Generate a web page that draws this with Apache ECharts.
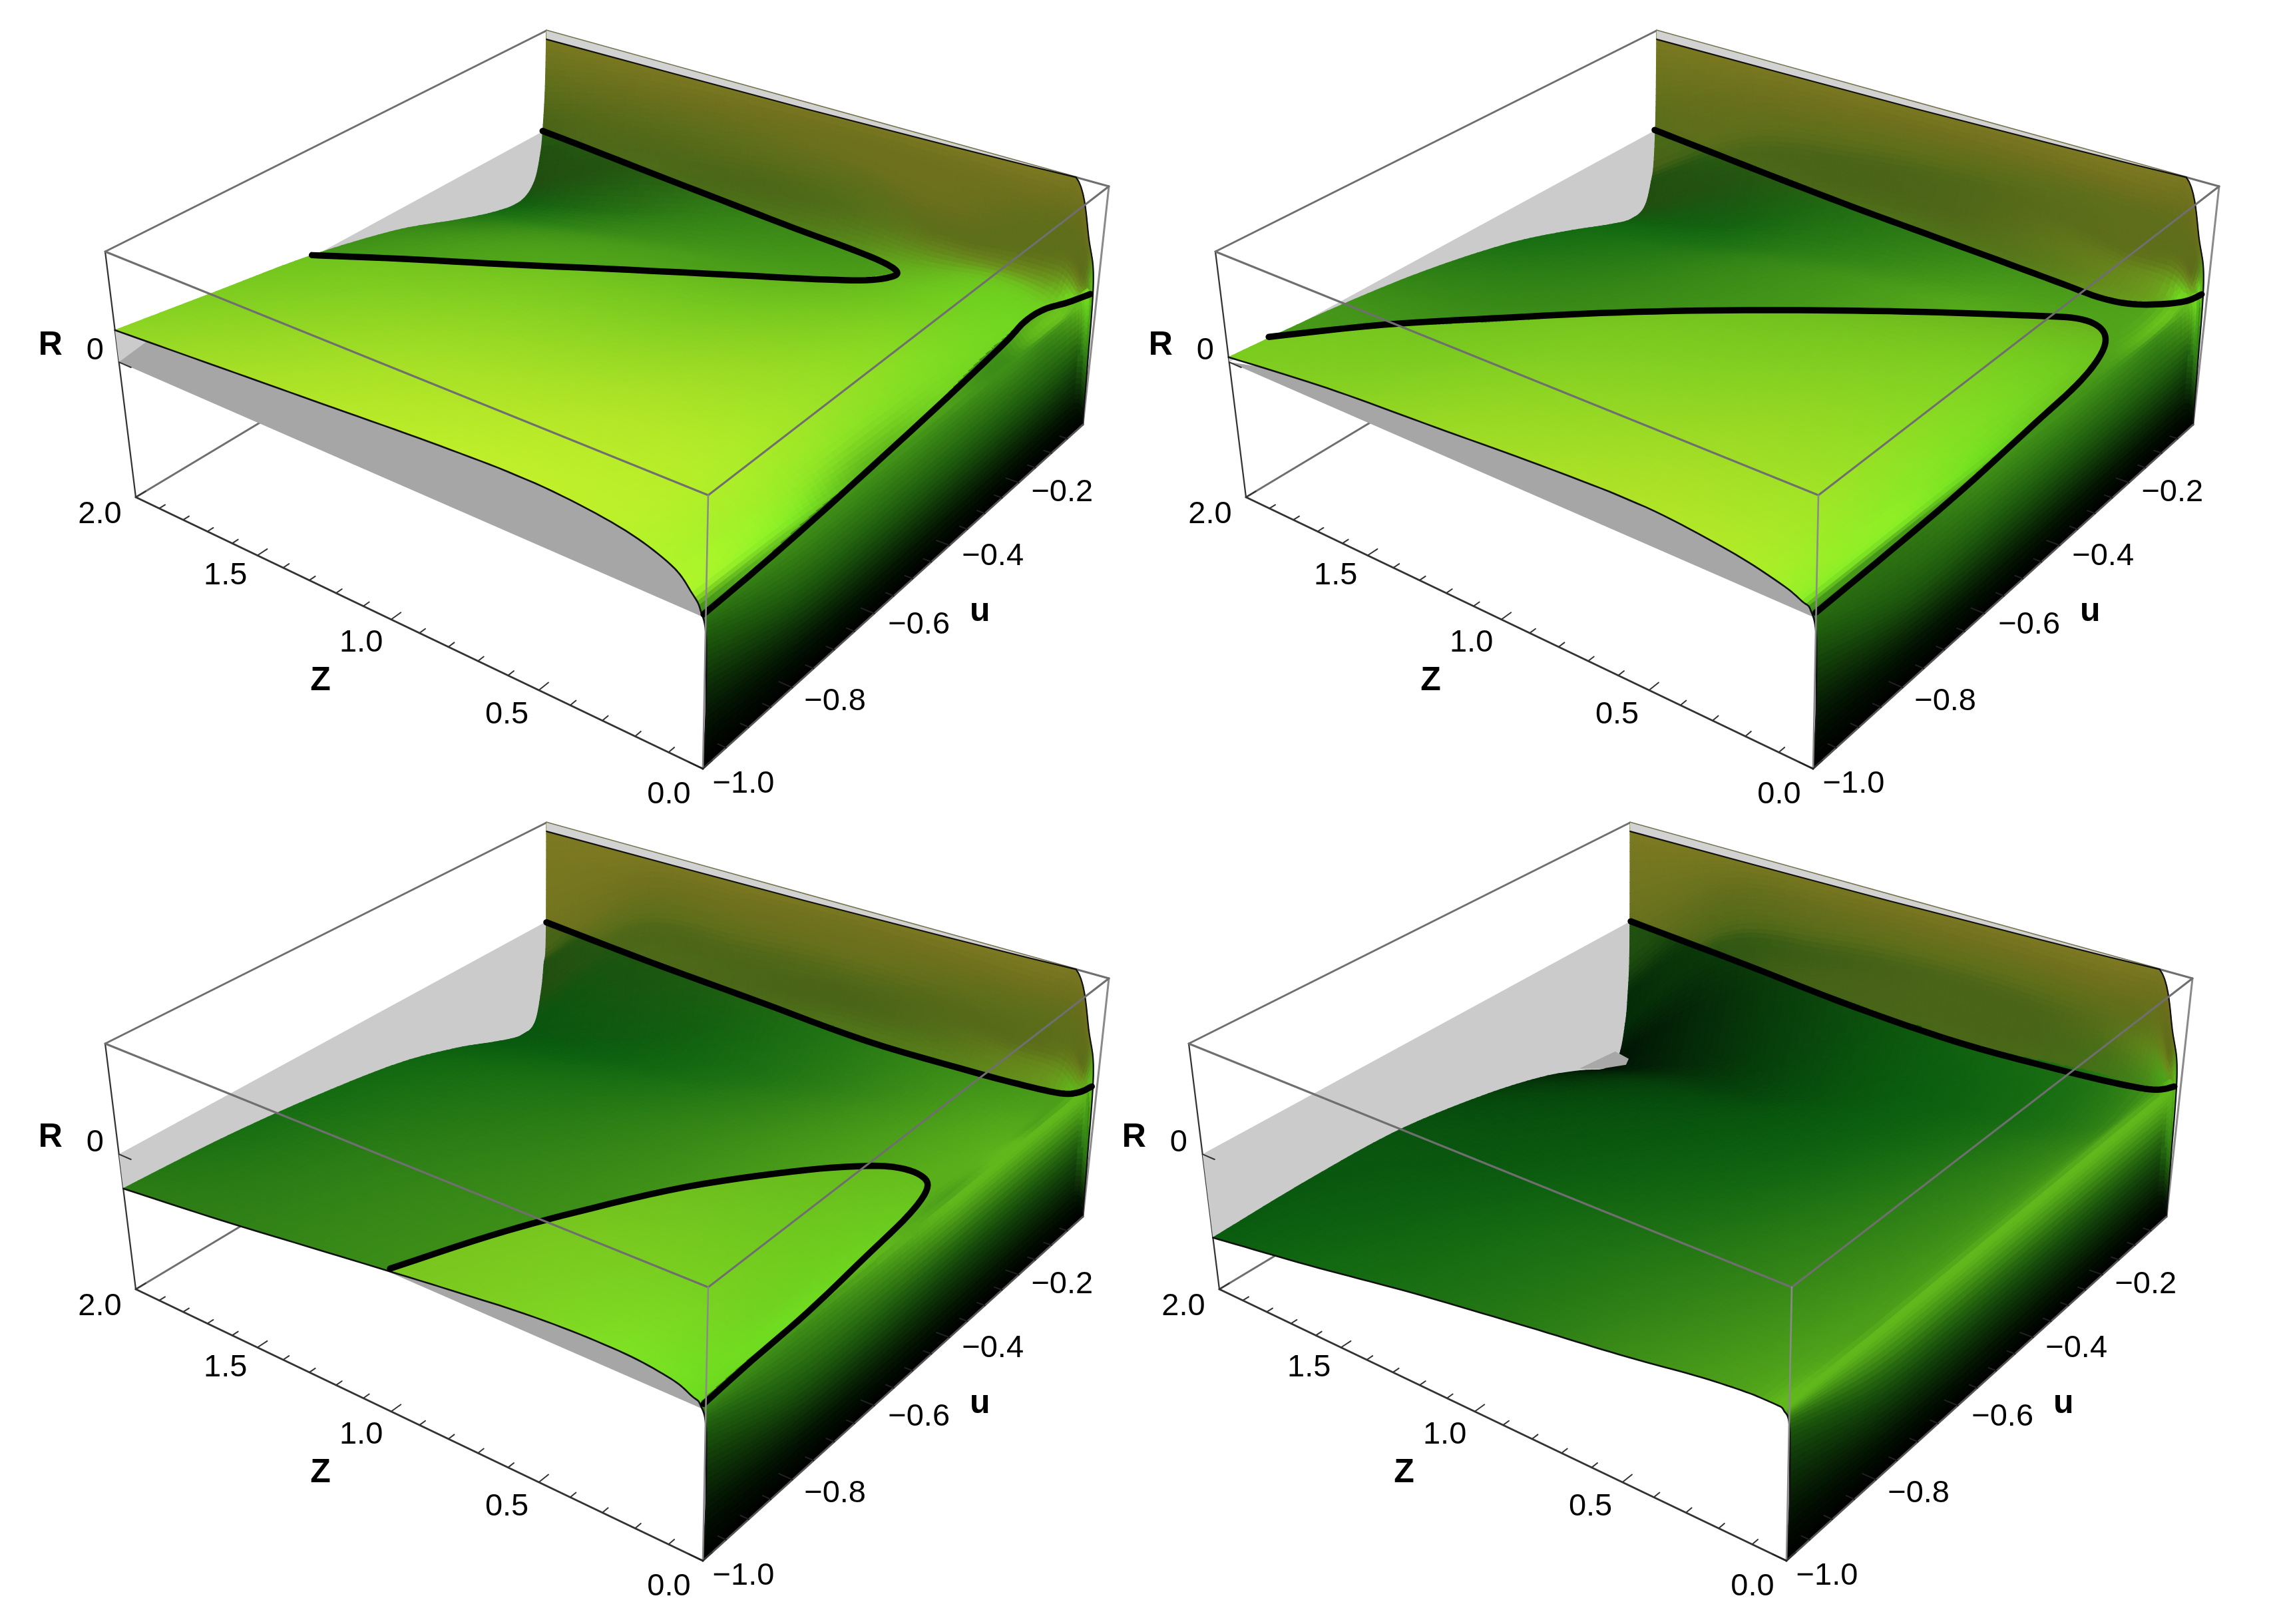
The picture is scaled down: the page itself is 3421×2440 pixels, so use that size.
<!doctype html>
<html><head><meta charset="utf-8"><style>html,body{margin:0;background:#fff}#c{width:3421px;height:2440px}</style>
<script src="https://cdn.jsdelivr.net/npm/echarts@6/dist/echarts.min.js"></script></head><body><div id="c"></div>
<script>
// ---- axes
const U_KNOTS=[-1,-.8,-.6,-.4,-.25,-.15,-.08,-.04,-.02,-.012,-.005,0];
const Z_KNOTS=[2,1.6,1.2,.8,.5,.25,.1,.04,.015,.006,.002,0];
const Z_MAJOR=[0,.5,1,1.5,2];
const Z_LABELS=['0.0','0.5','1.0','1.5','2.0'];
const Z_MINOR=[.1,.2,.3,.4,.6,.7,.8,.9,1.1,1.2,1.3,1.4,1.6,1.7,1.8,1.9];
const U_MAJOR=[-1,-.8,-.6,-.4,-.2];
const U_LABELS=['\u22121.0','\u22120.8','\u22120.6','\u22120.4','\u22120.2'];
const U_MINOR=[-.95,-.9,-.85,-.75,-.7,-.65,-.55,-.5,-.45,-.35,-.3,-.25,-.15,-.1,-.05];
// ---- surface height R (hundredths), rows Z_KNOTS (first 9), columns U_KNOTS
const R_P1=[[13,7,1,-8,-18,-24,-26,-21,-9,3,20,45],[16,11,5,-3,-11,-17,-17,-1,8,17,30,45],[19,15,9,3,-4,-9,-4,7,17,25,35,45],[22,17,12,6,0,-3,0,10,20,28,37,45],[23,19,15,10,5,2,1,5,10,22,36,45],[20,18,15,12,9,6,5,6,12,24,35,45],[14,12,11,9,6,2,2,5,12,22,34,45],[7,5,1,-1,-2,-3,-3,0,4,8,12,20],[2,0,-2,-3,-3,-3,-3,-3,-1,0,1,4]];
const R_P2=[[2,-1,-6,-14,-23,-30,-34,-32,-22,-14,8,45],[7,1,-4,-11,-18,-23,-22,-8,4,13,28,45],[10,6,2,-3,-8,-12,-5,3,13,22,34,45],[13,9,5,1,-3,-6,-1,8,18,26,36,45],[14,10,7,3,0,-3,1,9,18,27,36,45],[11,9,7,5,2,-1,2,6,12,25,35,45],[7,6,5,4,1,-2,-1,5,12,22,34,45],[4,3,2,0,-2,-3,-2,1,5,8,12,20],[2,0,-1,-3,-3,-3,-3,-3,-1,0,1,4]];
const R_P3=[[-14,-16,-20,-26,-34,-41,-45,-43,-30,-19,-8,45],[-9,-10,-14,-19,-27,-33,-33,-4,9,17,30,45],[-3,-5,-9,-15,-21,-24,-14,3,14,23,34,45],[3,1,-3,-8,-12,-14,-2,9,18,26,36,45],[7,5,3,-2,-5,-7,-1,8,17,26,36,45],[8,6,5,1,-3,-4,-1,6,12,24,35,45],[6,4,3,-1,-4,-5,-3,5,12,22,34,45],[3,1,0,-1,-1,-1,-1,0,5,8,12,20],[1,-1,-2,-2,-2,-2,-2,-2,-1,0,1,4]];
const R_P4=[[-34,-33,-34,-40,-47,-54,-60,-58,-45,-33,-12,45],[-27,-27,-28,-30,-36,-42,-44,-20,2,11,27,45],[-19,-19,-21,-25,-31,-36,-27,2,13,22,34,45],[-12,-13,-15,-18,-20,-20,-3,9,18,26,36,45],[-7,-8,-9,-12,-14,-14,-3,8,17,26,36,45],[-2,-3,-4,-6,-8,-9,-2,6,15,24,35,45],[0,-1,-1,-3,-5,-6,-3,1,12,22,34,45],[0,-1,-1,-1,-1,-1,-1,-1,4,8,12,20],[-1,-2,-2,-2,-2,-2,-2,-2,-1,0,1,4]];
const R_FRONT=[[-8,-20,-22,-22,-22,-22,-22,-22,-24,-26,-28,-30],[-35,-40,-42,-42,-42,-42,-42,-42,-44,-46,-48,-50],[-55,-55,-55,-55,-55,-55,-55,-55,-55,-55,-55,-55]];
// ---- surface shade, one letter per knot
const PALETTE={a:'#000000',b:'#061a04',c:'#143a0a',d:'#1f5a0e',e:'#2f7a14',f:'#3f8e18',g:'#0a5c0f',h:'#156c12',i:'#2c7c16',j:'#3a8c18',k:'#4ea01a',l:'#60b81c',m:'#6cc41e',n:'#7ccc20',o:'#90d624',p:'#a4de26',q:'#b4e628',r:'#c0f02a',s:'#a8f52a',t:'#88ee26',u:'#70dc20',v:'#214f10',w:'#4a6418',x:'#5e6e1a',y:'#70711e',z:'#7e7a22',A:'#6a8a1c',B:'#0a5610',C:'#064a0c',D:'#052c08',E:'#021405'};
const S_P1=["onmjihgvvwxz","ponlkjivwxyz","qpomkjiwxxyz","rqomlkwwxyyz","rqpnmmmAxyyz","rrponmuAxxyz","ssttuuuAxxyz","stlkjlmuAxxy","ffffffkluulk"];
const S_P2=["nkihhhgvvwxz","nmjiihgvwxyz","ponjjihwwxyz","ponmkjiwwxyz","qponmkwxxxyz","qponmkAAxxyz","sttumkkAxxyz","ttumklmuAxxy","ffffffkluulk"];
const S_P3=["ihhhggBBvvwz","iiihhggvwxyz","jjiihhgwwxyz","nnjjiihwxyyz","nnmkjjjwwxyz","tnmlkkjAxxyz","umulllkAxxyz","uulklkklAxxy","ffkllllllllk"];
const S_P4=["gBBCDEEEDDvz","hgBCCDDDvwxz","hhgBBCCwwxyz","iihggggwwxyz","jiihhghwwxyz","kjjiihhwwxyz","kkjjjiijAxyz","lkkkkkkkkAxy","lllllllllllk"];
const S_FRONT=["ddddddddeeee","bbbbbbbbbbbb","aaaaaaaaaaaa"];
const U_FRONT_EDGE=[-.994,-.994,-1];
// ---- R=0 contours as [u,Z]
const C_P1=[[[-.012,2.003],[-.021,1.842],[-.041,1.519],[-.059,1.215],[-.076,.926],[-.086,.71],[-.096,.587],[-.11,.527],[-.129,.524],[-.16,.572],[-.201,.694],[-.27,.932],[-.352,1.211],[-.436,1.492],[-.514,1.763],[-.589,2.009]],[[-.995,.013],[-.879,.015],[-.761,.021],[-.639,.03],[-.42,.049],[-.219,.071],[-.137,.086],[-.088,.076],[-.049,.042],[-.007,.014]]];
const C_P2=[[[-.007,2.003],[-.023,1.751],[-.043,1.433],[-.06,1.134],[-.073,.854],[-.085,.588],[-.096,.36],[-.102,.238],[-.095,.154],[-.073,.086],[-.04,.029],[-.007,.011]],[[-.991,.013],[-.833,.013],[-.664,.017],[-.469,.033],[-.343,.044],[-.261,.067],[-.208,.102],[-.18,.154],[-.177,.225],[-.206,.33],[-.288,.587],[-.376,.841],[-.47,1.092],[-.57,1.334],[-.677,1.567],[-.786,1.796],[-.914,2.016]]];
const C_P3=[[[-.006,1.996],[-.033,1.53],[-.053,1.087],[-.072,.677],[-.067,.32],[-.061,.165],[-.052,.061],[-.034,.023],[-.007,.01]],[[-.991,.018],[-.886,.026],[-.753,.032],[-.599,.051],[-.475,.068],[-.401,.098],[-.376,.148],[-.378,.224],[-.405,.304],[-.47,.43],[-.593,.617],[-.734,.773],[-.851,.882],[-.993,.988]]];
const C_P4=[[[-.002,1.999],[-.03,1.487],[-.058,1.037],[-.069,.64],[-.057,.293],[-.045,.122],[-.032,.044],[-.008,.012]]];
// ---- wall-top sliver [Z, drop in R] and fold patch of panel 4 at Z=2 [u,R]
const SLIVER=[[2,.04],[1.5,.035],[1,.028],[.5,.015],[.25,.007],[.1,0]];
const FOLD_P4=[[-.15,-.53],[-.05,-.55],[-.012,-.62],[-.02,-.64],[-.09,-.59]];

const R_MIN=-.55,R_MAX=.45;
const FL=[[0,0],[-1.1,0]];
const PANELS=[
 {dx:0,dy:0,R:R_P1,S:S_P1,C:C_P1,neg:[C_P1[0].concat([[-.589,2.1],[-.012,2.1]]),C_P1[1].concat(FL)]},
 {dx:1668,dy:0,R:R_P2,S:S_P2,C:C_P2,neg:[C_P2[0].concat(FL,C_P2[1],[[-.914,2.1],[-.007,2.1]])]},
 {dx:0,dy:1190,R:R_P3,S:S_P3,C:C_P3,neg:[C_P3[0].concat(FL,C_P3[1],[[-1.1,.98],[-1.1,2.1],[-.006,2.1]])]},
 {dx:1628,dy:1190,R:R_P4,S:S_P4,C:C_P4,fold:FOLD_P4,neg:[C_P4[0].concat(FL,[[-1.1,2.1],[-.002,2.1]])]}];

// ---- perspective of the box
function H(q){const [x0,y0]=q[0],[x1,y1]=q[1],[x2,y2]=q[2],[x3,y3]=q[3];
 const dx1=x1-x2,dx2=x3-x2,sx=x0-x1+x2-x3,dy1=y1-y2,dy2=y3-y2,sy=y0-y1+y2-y3;
 const d=dx1*dy2-dx2*dy1,g=(sx*dy2-dx2*sy)/d,h=(dx1*sy-sx*dy1)/d;
 const a=x1-x0+g*x1,b=x3-x0+h*x3,e=y1-y0+g*y1,f=y3-y0+h*y3;
 return (u,v)=>{const w=g*u+h*v+1;return [(a*u+b*v+x0)/w,(e*u+f*v+y0)/w];};}
const hb=H([[1056,1155],[1627,638],[825,374],[204,747]]),ht=H([[1064,744],[1666,280],[821,46],[158,378]]);
function P(u,Z,R){const a=u+1,b=Z/2,c=(R-R_MIN)/(R_MAX-R_MIN),p=hb(a,b),q=ht(a,b);return [p[0]+(q[0]-p[0])*c,p[1]+(q[1]-p[1])*c];}

// ---- shading between the read knots; colour is discontinuous across R=0
function hex(c){return [parseInt(c.substr(1,2),16),parseInt(c.substr(3,2),16),parseInt(c.substr(5,2),16)];}
const nr=Z_KNOTS.length,nc=U_KNOTS.length;
const cl=(v,a,b)=>v<a?a:v>b?b:v;
function cr(a,b,c,d,t){const t2=t*t,t3=t2*t,v=.5*(2*b+(c-a)*t+(2*a-5*b+4*c-d)*t2+(3*b-a-3*c+d)*t3),lo=Math.min(b,c),hi=Math.max(b,c);return v<lo?lo:v>hi?hi:v;}
function samp(T,ri,cj){const i=cl(Math.floor(ri),0,nr-2),t=ri-i,j=cl(Math.floor(cj),0,nc-2),s=cj-j,v=[];
 for(let m=-1;m<3;m++){const r=T[cl(i+m,0,nr-1)];v.push(cr(r[cl(j-1,0,nc-1)],r[j],r[j+1],r[cl(j+2,0,nc-1)],s));}
 return cr(v[0],v[1],v[2],v[3],t);}
function inPoly(x,y,poly){let c=false;for(let i=0,j=poly.length-1;i<poly.length;j=i++){const a=poly[i],b=poly[j];if((a[1]>y)!==(b[1]>y)&&x<(b[0]-a[0])*(y-a[1])/(b[1]-a[1])+a[0])c=!c;}return c;}
function field(tbl,mask){
 const F=tbl.map(r=>r.slice());let sum=0,n=0;
 for(let i=0;i<nr;i++)for(let j=0;j<nc;j++)if(mask[i][j]){sum+=F[i][j];n++;}
 const mean=n?sum/n:0;
 for(let i=0;i<nr;i++)for(let j=0;j<nc;j++)if(!mask[i][j])F[i][j]=mean;
 for(let it=0;it<60;it++)for(let i=0;i<nr;i++)for(let j=0;j<nc;j++)if(!mask[i][j]){
  const a=[];if(i>0)a.push(F[i-1][j]);if(i<nr-1)a.push(F[i+1][j]);if(j>0)a.push(F[i][j-1]);if(j<nc-1)a.push(F[i][j+1]);F[i][j]=a.reduce((p,q)=>p+q,0)/a.length;}
 let G=F.map(r=>r.slice());
 for(let i=1;i<=6;i++)for(let j=0;j<nc;j++)G[i][j]=.25*F[i-1][j]+.5*F[i][j]+.25*F[i+1][j];
 const Q=G.map(r=>r.slice());
 for(let i=0;i<=6;i++)for(let j=1;j<=6;j++)Q[i][j]=.25*G[i][j-1]+.5*G[i][j]+.25*G[i][j+1];
 return Q;}
function tables(p){const R=p.R.concat(R_FRONT).map(r=>r.map(v=>v/100)),S=p.S.concat(S_FRONT);
 const rgb=[0,1,2].map(k=>S.map(r=>r.split('').map(ch=>hex(PALETTE[ch])[k])));
 const UT=Z_KNOTS.map((z,i)=>U_KNOTS.map((u,j)=>(j===0&&i>=nr-3)?U_FRONT_EDGE[i-(nr-3)]:u));
 const ZT=Z_KNOTS.map(z=>U_KNOTS.map(()=>z));
 const isNeg=(u,Z,r)=>(u>-.05&&Z>1.25)?r<0:(Z<.008||p.neg.some(q=>inPoly(u,Z,q))||(Z>.3&&u>-.1&&r<0));
 const negM=Z_KNOTS.map((z,i)=>U_KNOTS.map((u,j)=>isNeg(UT[i][j],z,R[i][j]))),posM=negM.map(r=>r.map(v=>!v));
 return {R,UT,ZT,isNeg,neg:rgb.map(T=>field(T,negM)),pos:rgb.map(T=>field(T,posM))};}
function sp(t,ri,cj){return {u:samp(t.UT,ri,cj),Z:samp(t.ZT,ri,cj),R:samp(t.R,ri,cj)};}

// ---- render items
function poly(points,style){return {type:'polygon',silent:true,shape:{points},style};}
function pline(points,stroke,w){return {type:'polyline',silent:true,shape:{points},style:{fill:null,stroke,lineWidth:w,lineCap:'round',lineJoin:'round'}};}
function dense(pts){const o=[],n=pts.length;for(let i=0;i<n-1;i++){const a=pts[Math.max(i-1,0)],b=pts[i],c=pts[i+1],d=pts[Math.min(i+2,n-1)];
 for(let k=0;k<6;k++){const t=k/6,t2=t*t,t3=t2*t,f=q=>.5*(2*b[q]+(c[q]-a[q])*t+(2*a[q]-5*b[q]+4*c[q]-d[q])*t2+(3*b[q]-a[q]-3*c[q]+d[q])*t3);o.push([f(0),f(1)]);}}
 o.push(pts[n-1]);return o;}
function surfaceItem(t){return function(params,api){
 const i=api.value(0),j=api.value(1),c=q=>api.coord(q);
 const pt=(ri,cj)=>{const s=sp(t,ri,cj);return {p:P(s.u,s.Z,s.R),n:t.isNeg(s.u,s.Z,s.R)};};
 const fill=(ri,cj)=>{const s=sp(t,ri,cj),F=t.isNeg(s.u,s.Z,s.R)?t.neg:t.pos;return 'rgb('+Math.round(samp(F[0],ri,cj))+','+Math.round(samp(F[1],ri,cj))+','+Math.round(samp(F[2],ri,cj))+')';};
 const a=pt(i,j).p,b=pt(i+1,j+1).p,d=pt(i,j+1).p,e=pt(i+1,j).p;
 const L=(p,q)=>Math.hypot(p[0]-q[0],p[1]-q[1]);
 const nu=cl(Math.ceil(Math.max(L(a,d),L(e,b))/9),1,14),nz=cl(Math.ceil(Math.max(L(a,e),L(d,b))/9),1,14);
 const g=[];for(let m=0;m<=nz;m++){const rw=[];for(let n=0;n<=nu;n++)rw.push(pt(i+m/nz,j+n/nu));g.push(rw);}
 const ch=[];
 const quad=(r0,r1,c0,c1,p00,p01,p11,p10)=>{const f=fill((r0+r1)/2,(c0+c1)/2);ch.push(poly([c(p00),c(p01),c(p11),c(p10)],{fill:f,stroke:f,lineWidth:1.2}));};
 for(let m=0;m<nz;m++)for(let n=nu-1;n>=0;n--){
  const A=g[m][n],B=g[m][n+1],C=g[m+1][n+1],D=g[m+1][n],r0=i+m/nz,r1=i+(m+1)/nz,c0=j+n/nu,c1=j+(n+1)/nu;
  if(A.n===B.n&&B.n===C.n&&C.n===D.n)quad(r0,r1,c0,c1,A.p,B.p,C.p,D.p);
  else{const K=4;for(let x=0;x<K;x++)for(let y=K-1;y>=0;y--){const ra=r0+(r1-r0)*x/K,rb=r0+(r1-r0)*(x+1)/K,ca=c0+(c1-c0)*y/K,cb=c0+(c1-c0)*(y+1)/K;
    quad(ra,rb,ca,cb,pt(ra,ca).p,pt(ra,cb).p,pt(rb,cb).p,pt(rb,ca).p);}}
 }
 return {type:'group',children:ch};};}
function once(fn){return {type:'custom',silent:true,clip:false,animation:false,renderItem:fn,data:[[0,0]],encode:{x:0,y:1}};}
function edge(c,a,b,col,w){const p=c(P(a[0],a[1],a[2])),q=c(P(b[0],b[1],b[2]));return {type:'line',silent:true,shape:{x1:p[0],y1:p[1],x2:q[0],y2:q[1]},style:{stroke:col,lineWidth:w,lineCap:'round'}};}
function label(c,q,dx,dy,text,bold){const p=c(q);return {type:'text',silent:true,x:p[0]+dx,y:p[1]+dy+4,style:{text,fontFamily:'Liberation Sans',fontSize:bold?50:47,fontWeight:bold?'bold':'normal',fill:'#000',textAlign:'center',textVerticalAlign:'middle'}};}
const Z_OFF=[[-51,35],[-48,33],[-45,31],[-48,27],[-54,22]],U_OFF=[[61,19],[64,17],[67,13],[65,13],[65,11]];

const grid=[],xAxis=[],yAxis=[],series=[];
PANELS.forEach((p,k)=>{
 grid.push({left:p.dx,top:p.dy,width:1750,height:1250});
 xAxis.push({type:'value',gridIndex:k,min:0,max:1750,show:false});
 yAxis.push({type:'value',gridIndex:k,min:0,max:1250,inverse:true,show:false});
 const t=tables(p),base={xAxisIndex:k,yAxisIndex:k};
 const coordOf=api=>(q=>api.coord(q));
 series.push(Object.assign(once((pr,api)=>{const c=coordOf(api),ch=[];
  const g='#6f6f6f';
  ch.push(edge(c,[-1,2,R_MAX],[0,2,R_MAX],g,3),edge(c,[0,2,R_MAX],[0,0,R_MAX],g,3),edge(c,[-1,2,R_MIN],[0,2,R_MIN],g,3),edge(c,[0,2,R_MIN],[0,0,R_MIN],g,3));
  ch.push(edge(c,[-1,2,R_MIN],[-1,2,R_MAX],'#333',2.2),edge(c,[0,0,R_MIN],[0,0,R_MAX],'#8a8a8a',3));
  const far=[];for(let cj=0;cj<=nc-1+1e-9;cj+=.1){const s=sp(t,0,Math.min(cj,nc-1));far.push(c(P(s.u,2,s.R)));}
  far.push(c(P(0,2,0)),c(P(-1,2,0)));
  ch.push(poly(far,{fill:'#cbcbcb'}));
  const near=[];let z0=null,zl=0;for(let ri=0;ri<=nr-1+1e-9;ri+=.1){const s=sp(t,Math.min(ri,nr-1),0);if(s.R>0){zl=s.Z;if(s.Z<=1.87){if(z0===null)z0=s.Z;near.push(P(-1,s.Z,s.R));}}}
  if(near.length){const zs=t.R[0][0]>0?2:z0,pts=near.map(c);pts.push(c(P(-1,zl,0)),c(P(-1,zs,0)));ch.push(poly(pts,{fill:'#a6a6a6'}));}
  return {type:'group',children:ch};}),base));
 const cells=[];for(let i=0;i<nr-1;i++)for(let j=nc-2;j>=0;j--)cells.push([i,j]);
 series.push(Object.assign({type:'custom',silent:true,clip:false,animation:false,renderItem:surfaceItem(t),data:cells,encode:{x:0,y:1}},base));
 series.push(Object.assign(once((pr,api)=>{const c=coordOf(api),ch=[];
  const top=SLIVER.map(a=>c(P(0,a[0],R_MAX))),low=SLIVER.map(a=>c(P(0,a[0],R_MAX-a[1])));
  ch.push(poly(top.concat(low.slice().reverse()),{fill:'#d2d2d2'}));
  ch.push(pline(low,'#111',2.2));
  const nearE=[];for(let ri=0;ri<=nr-1+1e-9;ri+=.1){const s=sp(t,Math.min(ri,nr-1),0);nearE.push(c(P(s.u,s.Z,s.R)));}
  ch.push(pline(nearE,'#111',2.6));
  const rE=[];for(let ri=6;ri<=nr-1+1e-9;ri+=.1){const s=sp(t,Math.min(ri,nr-1),nc-1);rE.push(c(P(s.u,s.Z,s.R)));}
  ch.push(pline(rE,'#111',2.2));
  if(p.fold)ch.push(poly(p.fold.map(a=>c(P(a[0],2,a[1]))),{fill:'#a8a8a8'}));
  p.C.forEach(cv=>ch.push(pline(dense(cv.map(a=>c(P(a[0],a[1],0)))),'#000',9.5)));
  const g='#6f6f6f';
  ch.push(edge(c,[-1,2,R_MAX],[-1,0,R_MAX],g,3),edge(c,[0,0,R_MAX],[-1,0,R_MAX],g,3),edge(c,[-1,0,R_MIN],[-1,0,R_MAX],'#8a8a8a',2.6));
  ch.push(edge(c,[-1,2,R_MIN],[-1,0,R_MIN],'#333',3),edge(c,[-1,0,R_MIN],[0,0,R_MIN],'#555',3));
  Z_MAJOR.forEach((z,i)=>{ch.push(edge(c,[-1,z,R_MIN],[-.98,z,R_MIN],'#333',2));ch.push(label(c,P(-1,z,R_MIN),Z_OFF[i][0],Z_OFF[i][1],Z_LABELS[i]));});
  Z_MINOR.forEach(z=>ch.push(edge(c,[-1,z,R_MIN],[-.988,z,R_MIN],'#333',2)));
  U_MAJOR.forEach((u,i)=>{ch.push(edge(c,[u,0,R_MIN],[u,.04,R_MIN],'#222',2));ch.push(label(c,P(u,0,R_MIN),U_OFF[i][0],U_OFF[i][1],U_LABELS[i]));});
  U_MINOR.forEach(u=>ch.push(edge(c,[u,0,R_MIN],[u,.024,R_MIN],'#222',2)));
  ch.push(edge(c,[-1,2,0],[-1,1.95,0],'#333',2));
  ch.push(label(c,P(-1,2,0),-36,-21,'0'));
  ch.push(label(c,P(-1,2,0),-103,-29,'R',true));
  ch.push(label(c,P(-1,1,R_MIN),-106,89,'Z',true));
  ch.push(label(c,P(-.5,0,R_MIN),101,46,'u',true));
  return {type:'group',children:ch};}),base));
});
const chart=echarts.init(document.getElementById('c'),null,{renderer:'canvas',width:3421,height:2440});
chart.setOption({animation:false,backgroundColor:'#fff',tooltip:{show:false},grid,xAxis,yAxis,series});
</script></body></html>
